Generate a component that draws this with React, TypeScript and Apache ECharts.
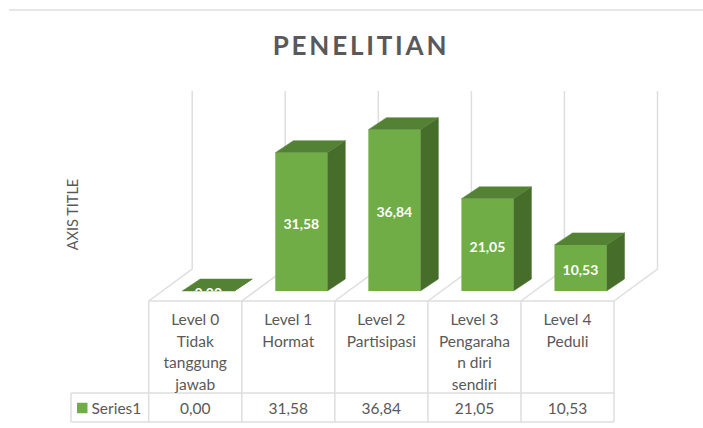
import React, { useEffect, useRef } from "react";
import * as echarts from "echarts";

const chartTitle = "PENELITIAN";
const axisTitle = "AXIS TITLE";
const seriesName = "Series1";
const categories = [
  "Level 0\nTidak\ntanggung\njawab",
  "Level 1\nHormat",
  "Level 2\nPartisipasi",
  "Level 3\nPengaraha\nn diri\nsendiri",
  "Level 4\nPeduli",
];
const seriesValues = [0.0, 31.58, 36.84, 21.05, 10.53];

const GRID_LEFT = 148.7;
const GRID_RIGHT = 614;
const BASE_Y = 291;
const FLOOR_Y = 301;
const ROW_Y = 393;
const TABLE_BOTTOM = 422;
const LEGEND_LEFT = 71;
const WALL_TOP = 91;
const WALL_BOTTOM = 269;
const WALL_DX = 43.5;
const BAR_SHIFT = 13;
const BAR_W = 52;
const DEPTH_X = 18;
const DEPTH_Y = 12;
const LINE = "#DEDEDE";
const TEXT = "#595959";
const fmt = (v: number) => v.toFixed(2).replace(".", ",");

const hLine = (x1: number, x2: number, y: number) => ({
  type: "line",
  silent: true,
  shape: { x1, y1: y, x2, y2: y },
  style: { stroke: LINE, lineWidth: 1.5 },
});
const vLine = (x: number, y1: number, y2: number) => ({
  type: "line",
  silent: true,
  shape: { x1: x, y1, x2: x, y2 },
  style: { stroke: LINE, lineWidth: 1.5 },
});

export default function App() {
  const ref = useRef<HTMLDivElement>(null);
  useEffect(() => {
    document.body.style.margin = "0";
    const chart = echarts.init(ref.current!, undefined, { renderer: "svg" });
    const colW = (GRID_RIGHT - GRID_LEFT) / categories.length;
    const tableLines: any[] = [
      hLine(9, 703, 10),
      hLine(GRID_LEFT, GRID_RIGHT, FLOOR_Y),
      hLine(LEGEND_LEFT, GRID_RIGHT, ROW_Y),
      hLine(LEGEND_LEFT, GRID_RIGHT, TABLE_BOTTOM),
      vLine(LEGEND_LEFT, ROW_Y, TABLE_BOTTOM),
    ];
    for (let i = 0; i <= categories.length; i++) {
      tableLines.push(vLine(GRID_LEFT + i * colW, FLOOR_Y, TABLE_BOTTOM));
    }
    chart.setOption({
      animation: false,
      backgroundColor: "#fff",
      title: {
        text: chartTitle,
        left: 356,
        textAlign: "center",
        top: 27,
        textStyle: {
          fontFamily: "Lato",
          fontSize: 26,
          fontWeight: "bold",
          color: TEXT,
        },
      },
      legend: {
        left: 77,
        top: 400,
        padding: 0,
        itemWidth: 10.5,
        itemHeight: 10.5,
        itemGap: 3,
        icon: "rect",
        data: [seriesName],
        textStyle: { fontFamily: "Lato", fontSize: 15.5, color: TEXT, padding: [0, 0, 0, -1] },
      },
      grid: {
        left: GRID_LEFT,
        width: GRID_RIGHT - GRID_LEFT,
        top: BASE_Y - 175.2,
        height: 175.2,
      },
      xAxis: {
        type: "category",
        data: categories,
        axisLine: { show: false },
        axisTick: { show: false },
        axisLabel: {
          interval: 0,
          margin: 17,
          fontFamily: "Lato",
          fontSize: 15.5,
          lineHeight: 21.7,
          color: TEXT,
          align: "center",
        },
      },
      yAxis: { type: "value", min: 0, max: 40, show: false },
      graphic: [
        ...tableLines,
        {
          type: "text",
          x: 72,
          y: 214.5,
          rotation: Math.PI / 2,
          silent: true,
          style: {
            text: axisTitle,
            fontFamily: "Lato",
            fontSize: 14.5,
            fill: TEXT,
            align: "center",
            verticalAlign: "middle",
          },
        },
      ],
      series: [
        {
          type: "custom",
          name: "walls",
          silent: true,
          z: 1,
          data: seriesValues,
          renderItem: (params: any, api: any) => {
            const cx = api.coord([api.value(0), 0])[0];
            const w = api.size([1, 0])[0];
            const wall = (fx: number) => ({
              type: "polyline",
              shape: {
                points: [
                  [fx, FLOOR_Y],
                  [fx + WALL_DX, WALL_BOTTOM],
                  [fx + WALL_DX, WALL_TOP],
                ],
              },
              style: { stroke: LINE, lineWidth: 1.5, fill: "none" },
            });
            const children = [wall(cx - w / 2)];
            if (params.dataIndex === categories.length - 1) children.push(wall(cx + w / 2));
            return { type: "group", children };
          },
        },
        {
          type: "custom",
          name: seriesName,
          silent: true,
          z: 2,
          itemStyle: { color: "#70AD47" },
          data: seriesValues,
          encode: { x: 0, y: 1 },
          renderItem: (params: any, api: any) => {
            const idx = api.value(0);
            const val = api.value(1);
            const [cx, top] = api.coord([idx, val]);
            const fx = cx + BAR_SHIFT - BAR_W / 2;
            const r = fx + BAR_W;
            const tableX = cx;
            const poly = (points: number[][], fill: string) => ({
              type: "polygon",
              shape: { points },
              style: { fill, stroke: fill, lineWidth: 0.5 },
            });
            return {
              type: "group",
              children: [
                poly(
                  [
                    [r, BASE_Y],
                    [r + DEPTH_X, BASE_Y - DEPTH_Y],
                    [r + DEPTH_X, top - DEPTH_Y],
                    [r, top],
                  ],
                  "#466D2A",
                ),
                poly(
                  [
                    [fx, top],
                    [fx + DEPTH_X, top - DEPTH_Y],
                    [r + DEPTH_X, top - DEPTH_Y],
                    [r, top],
                  ],
                  "#548235",
                ),
                {
                  type: "rect",
                  shape: { x: fx, y: top, width: BAR_W, height: BASE_Y - top },
                  style: { fill: "#70AD47" },
                },
                {
                  type: "text",
                  x: fx + BAR_W / 2,
                  y: (top + BASE_Y) / 2 + 1.5,
                  clipPath: {
                    type: "rect",
                    shape: { x: -40, y: -40, width: 80, height: 40 + BASE_Y - ((top + BASE_Y) / 2 + 1.5) },
                  },
                  style: {
                    text: fmt(val),
                    fontFamily: "Lato",
                    fontSize: 14,
                    fontWeight: "bold",
                    fill: "#fff",
                    align: "center",
                    verticalAlign: "middle",
                  },
                },
                {
                  type: "text",
                  x: tableX,
                  y: 408,
                  style: {
                    text: fmt(val),
                    fontFamily: "Lato",
                    fontSize: 15.5,
                    fill: TEXT,
                    align: "center",
                    verticalAlign: "middle",
                  },
                },
              ],
            };
          },
        },
      ],
    });
    return () => chart.dispose();
  }, []);
  return (
    <>
      <style>{`svg text[style*="26px"]{letter-spacing:2.8px}`}</style>
      <div ref={ref} style={{ width: 703, height: 428 }} />
    </>
  );
}
